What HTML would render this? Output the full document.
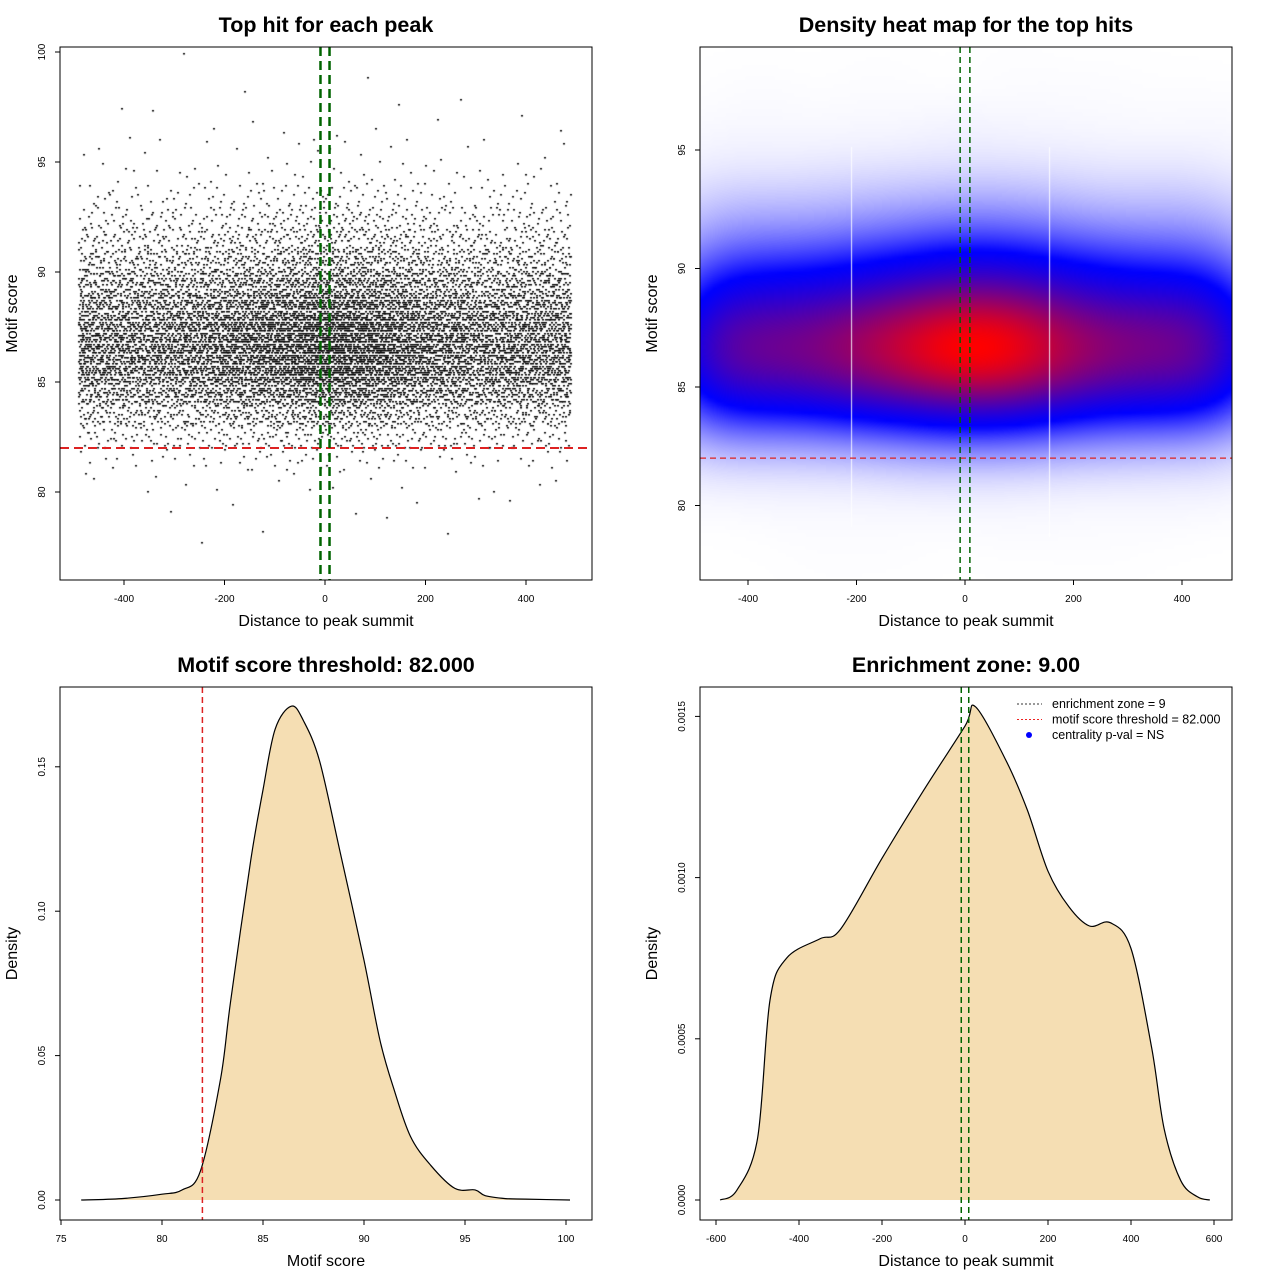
<!DOCTYPE html>
<html><head><meta charset="utf-8">
<style>
body{margin:0;background:#fff;width:1280px;height:1280px;position:relative;overflow:hidden;font-family:"Liberation Sans",sans-serif}
canvas{position:absolute}
svg{position:absolute;left:0;top:0}
</style></head><body>
<canvas id="scatter" style="left:60px;top:47px" width="532" height="533"></canvas>
<canvas id="heat" style="left:700px;top:47px" width="532" height="533"></canvas>
<svg id="svg" width="1280" height="1280" xmlns="http://www.w3.org/2000/svg"></svg>
<script>
// ---- data ----
const scoreBins = [77,78,79,80,81,82,83,84,85,86,87,88,89,90,91,92,93,94,95,96,97,98,99];
const scoreCounts = [1,3,6,18,70,260,650,1250,1800,2000,1850,1500,1050,680,400,230,110,40,18,10,5,2,1];
const xWeightX = [-490,-400,-300,-200,-100,0,100,200,300,400,490];
const xWeight = [0.85,0.85,0.86,1.0,1.15,1.35,1.25,1.0,0.88,0.88,0.85];
const densScoreX = [76,78,80,81,81.9,82.9,83.4,84.4,85,85.6,86.4,87,87.8,88.8,90,90.8,91.5,92.3,93.3,94.5,95.5,96,97,98,100.2];
const densScoreY = [0,0.0005,0.002,0.0035,0.010,0.042,0.069,0.118,0.142,0.163,0.171,0.166,0.152,0.121,0.083,0.055,0.038,0.022,0.012,0.004,0.0035,0.0015,0.0005,0.0003,0];
const densPosX = [-590,-550,-500,-470,-430,-350,-300,-200,-100,0,25,100,150,200,250,300,350,400,450,480,520,560,590];
const densPosY = [0,0.00003,0.00019,0.00062,0.00075,0.00081,0.00084,0.00106,0.00127,0.00147,0.00153,0.00136,0.00121,0.00102,0.00091,0.00085,0.00086,0.00078,0.00047,0.00022,0.00006,0.00001,0];
const threshold = 82, zone = 9;
const ticks1X=[-400,-200,0,200,400], ticks1Y=[80,85,90,95,100];
const ticks2X=[-400,-200,0,200,400], ticks2Y=[80,85,90,95];
const ticks3X=[75,80,85,90,95,100], ticks3Y=[0,0.05,0.10,0.15], ticks3YL=["0.00","0.05","0.10","0.15"];
const ticks4X=[-600,-400,-200,0,200,400,600], ticks4Y=[0,0.0005,0.001,0.0015], ticks4YL=["0.0000","0.0005","0.0010","0.0015"];

const NS="http://www.w3.org/2000/svg", svg=document.getElementById('svg');
function el(tag,attrs,name,parent){const e=document.createElementNS(NS,tag);for(const k in attrs)e.setAttribute(k,attrs[k]);


(parent||svg).appendChild(e);return e;}
function txt(x,y,s,size,name,opt){opt=opt||{};const t=el('text',{x:x,y:y,'font-size':size,'text-anchor':'middle','font-family':'Liberation Sans, sans-serif','font-weight':opt.bold?'bold':'normal',fill:'#000'},name);
if(opt.rot)t.setAttribute('transform','rotate(-90 '+x+' '+y+')');t.textContent=s;return t;}
function interp(xs,ys,x){if(x<=xs[0])return ys[0];for(let i=1;i<xs.length;i++){if(x<=xs[i]){const f=(x-xs[i-1])/(xs[i]-xs[i-1]);return ys[i-1]+f*(ys[i]-ys[i-1]);}}return ys[ys.length-1];}
function halton(i,b){let f=1,r=0;while(i>0){f/=b;r+=f*(i%b);i=Math.floor(i/b);}return r;}

function panel(box,sx,sy,tx,ty,tyl,title,xl,yl,key){
  el('rect',{x:box.x,y:box.y,width:box.w,height:box.h,fill:'none',stroke:'#000','stroke-width':1},key+'-frame');
  tx.forEach(v=>{const x=sx(v);el('line',{x1:x,x2:x,y1:box.y+box.h,y2:box.y+box.h+5,stroke:'#000'},key+'-x-tick');
    txt(x,box.y+box.h+22,String(v),10,key+'-x-tick-label');});
  ty.forEach((v,i)=>{const y=sy(v);el('line',{x1:box.x-5,x2:box.x,y1:y,y2:y,stroke:'#000'},key+'-y-tick');
    txt(box.x-15,y,tyl?tyl[i]:String(v),10,key+'-y-tick-label',{rot:1});});
  txt(box.x+box.w/2,box.y-15,title,21.5,key+'-title',{bold:1});
  if(xl)txt(box.x+box.w/2,box.y+box.h+46,xl,16,key+'-x-axis-title');
  txt(box.x-43,box.y+box.h/2,yl,16,key+'-y-axis-title',{rot:1});
}
function vdash(x,y1,y2,col,w,da,name){el('line',{x1:x,x2:x,y1:y1,y2:y2,stroke:col,'stroke-width':w,'stroke-dasharray':da},name);}
function hdash(y,x1,x2,col,w,da,name){el('line',{x1:x1,x2:x2,y1:y,y2:y,stroke:col,'stroke-width':w,'stroke-dasharray':da},name);}

// ---- generate points from binned data ----
const pts=[];const wmax=Math.max(...xWeight);let idx=1;
scoreBins.forEach((s0,k)=>{let n=0;while(n<scoreCounts[k]){idx++;const x=-490+980*halton(idx,2);
  if(halton(idx,5)*wmax<interp(xWeightX,xWeight,x)){pts.push([x,s0+Math.round(halton(idx,3)*10)/10]);n++;}}});

// ---- panel 1 ----
const b1={x:60,y:47,w:532,h:533};const sx1=v=>325+v*0.5025, sy1=v=>492-22*(v-80);
const c1=document.getElementById('scatter').getContext('2d');c1.fillStyle='#000';
pts.forEach(p=>{c1.fillRect(Math.round(sx1(p[0])-61),Math.round(sy1(p[1])-48),2,1.5);});
hdash(sy1(threshold),60,592,'#dd2222',2,'9,5','threshold-line-1');
vdash(sx1(-zone),47,580,'#006400',2.5,'9,5','zone-left-1');vdash(sx1(zone),47,580,'#006400',2.5,'9,5','zone-right-1');
panel(b1,sx1,sy1,ticks1X,ticks1Y,null,'Top hit for each peak','Distance to peak summit','Motif score','scatter');

// ---- panel 2 heatmap ----
const b2={x:700,y:47,w:532,h:533};const sx2=v=>965+v*0.5425, sy2=v=>387-23.7*(v-85);
(function(){const cs=4,GW=133,GH=134;const g=new Float32Array(GW*GH);
  pts.forEach(p=>{const gx=Math.floor((sx2(p[0])-700)/cs),gy=Math.floor((sy2(p[1])-47)/cs);if(gx>=0&&gx<GW&&gy>=0&&gy<GH)g[gy*GW+gx]++;});
  function blur(a,W,H,sig,horiz){const r=Math.ceil(sig*3),k=[];let kt=0;for(let i=-r;i<=r;i++){k.push(Math.exp(-i*i/(2*sig*sig)));kt+=k[k.length-1];}
    const o=new Float32Array(W*H);for(let y=0;y<H;y++)for(let x=0;x<W;x++){let s=0,ws=0;for(let i=-r;i<=r;i++){const xx=horiz?x+i:x,yy=horiz?y:y+i;if(xx<0||yy<0||xx>=W||yy>=H)continue;s+=a[yy*W+xx]*k[i+r];ws+=k[i+r];}o[y*W+x]=horiz?s/Math.sqrt(ws*kt):s;}return o;}
  let d=blur(blur(g,GW,GH,8,true),GW,GH,6,false);let m=0;for(const v of d)m=Math.max(m,v);
  const c=document.getElementById('heat').getContext('2d');const tmp=document.createElement('canvas');tmp.width=GW;tmp.height=GH;
  const tc=tmp.getContext('2d'),im=tc.createImageData(GW,GH);
  for(let i=0;i<GW*GH;i++){const t=d[i]/m;let r,gg,b;
    if(t<0.36){const f=Math.pow(t/0.36,0.9);r=255*(1-f);gg=255*(1-f);b=255;}else{const f=Math.pow(Math.min(1,(t-0.36)/0.64),1.2);r=255*f;gg=0;b=255*(1-f);}
    im.data[i*4]=r;im.data[i*4+1]=gg;im.data[i*4+2]=b;im.data[i*4+3]=255;}
  tc.putImageData(im,0,0);c.imageSmoothingEnabled=true;c.drawImage(tmp,0,0,GW*cs,GH*cs);
  c.fillStyle='rgba(255,255,255,0.9)';c.fillRect(sx2(-210)-700,100,1,380);c.fillRect(sx2(155)-700,100,1,390);})();
hdash(sy2(threshold),700,1232,'#dd2222',1.3,'6,4','threshold-line-2');
vdash(sx2(-zone),47,580,'#006400',1.5,'6,4','zone-left-2');vdash(sx2(zone),47,580,'#006400',1.5,'6,4','zone-right-2');
panel(b2,sx2,sy2,ticks2X,ticks2Y,null,'Density heat map for the top hits','Distance to peak summit','Motif score','heatmap');

// ---- smooth curve (Catmull-Rom through data points) ----
function smoothPath(xs,ys,sx,sy){const P=xs.map((x,i)=>[sx(x),sy(ys[i])]);let d='M'+P[0][0].toFixed(1)+','+P[0][1].toFixed(1);
  for(let i=0;i<P.length-1;i++){const p0=P[Math.max(0,i-1)],p1=P[i],p2=P[i+1],p3=P[Math.min(P.length-1,i+2)];
    const c1=[p1[0]+(p2[0]-p0[0])/6,p1[1]+(p2[1]-p0[1])/6],c2=[p2[0]-(p3[0]-p1[0])/6,p2[1]-(p3[1]-p1[1])/6];
    d+=' C'+c1[0].toFixed(1)+','+c1[1].toFixed(1)+' '+c2[0].toFixed(1)+','+c2[1].toFixed(1)+' '+p2[0].toFixed(1)+','+p2[1].toFixed(1);}
  return d;}

// ---- panel 3 ----
const b3={x:60,y:687,w:532,h:533};const sx3=v=>162+(v-80)*20.2, sy3=v=>1200-v*2888;
let p3=smoothPath(densScoreX,densScoreY,sx3,sy3);
el('path',{d:p3+' Z',fill:'#f5deb3',stroke:'none'},'score-density-fill');
el('path',{d:p3,fill:'none',stroke:'#000','stroke-width':1.2},'score-density-curve');
vdash(sx3(threshold),687,1220,'#dd2222',1.5,'6,4','threshold-line-3');
panel(b3,sx3,sy3,ticks3X,ticks3Y,ticks3YL,'Motif score threshold: 82.000','Motif score','Density','score-density');

// ---- panel 4 ----
const b4={x:700,y:687,w:532,h:533};const sx4=v=>965+v*0.415, sy4=v=>1200-v*322400;
let p4=smoothPath(densPosX,densPosY,sx4,sy4);
el('path',{d:p4+' Z',fill:'#f5deb3',stroke:'none'},'position-density-fill');
el('path',{d:p4,fill:'none',stroke:'#000','stroke-width':1.2},'position-density-curve');
vdash(sx4(-zone),687,1220,'#006400',1.5,'6,4','zone-left-4');vdash(sx4(zone),687,1220,'#006400',1.5,'6,4','zone-right-4');
panel(b4,sx4,sy4,ticks4X,ticks4Y,ticks4YL,'Enrichment zone: 9.00','Distance to peak summit','Density','position-density');
// legend
const lg=[['enrichment zone = 9','#333','line'],['motif score threshold = 82.000','#ee2222','line'],['centrality p-val = NS','#0000ff','dot']];
lg.forEach((l,i)=>{const y=704+i*15.5;
  if(l[2]==='line')el('line',{x1:1017,x2:1042,y1:y,y2:y,stroke:l[1],'stroke-dasharray':'2,2'},'legend-line');
  else el('circle',{cx:1029,cy:y,r:3,fill:l[1]},'legend-dot');
  const t=el('text',{x:1052,y:y+4,'font-size':12.5,'font-family':'Liberation Sans, sans-serif'},'legend-entry');t.textContent=l[0];});
</script>
</body></html>
